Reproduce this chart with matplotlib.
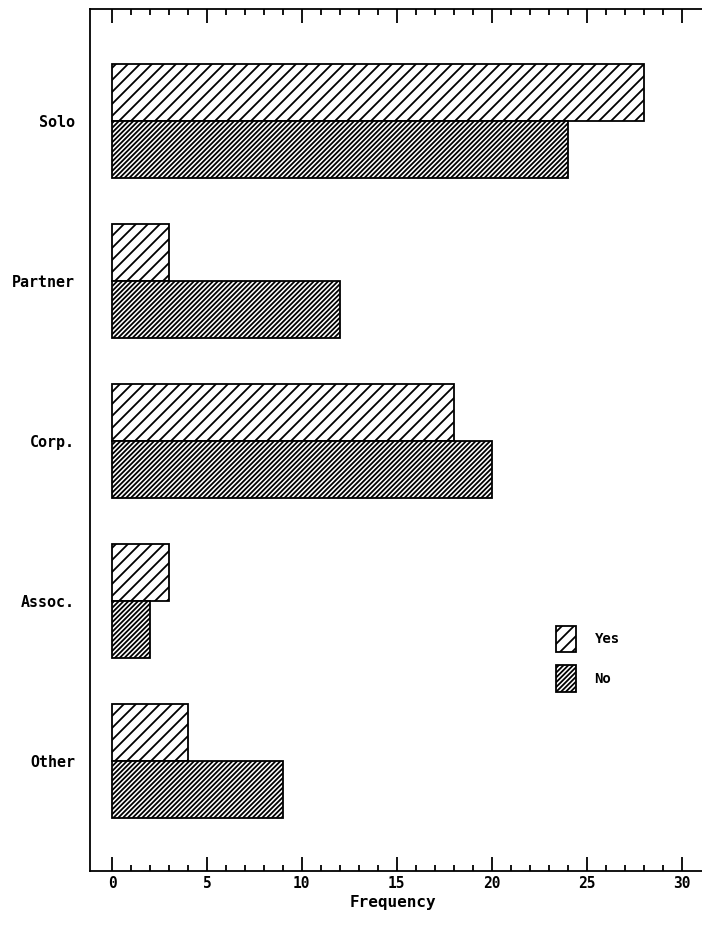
import numpy as np
import matplotlib
matplotlib.use('Agg')
import matplotlib.pyplot as plt

# data
categories = ['Solo', 'Partner', 'Corp.', 'Assoc.', 'Other']
yes_counts = [28, 3, 18, 3, 4]
no_counts = [24, 12, 20, 2, 9]
series_labels = ['Yes', 'No']
x_major = [0, 5, 10, 15, 20, 25, 30]
x_label = 'Frequency'

plt.rcParams['font.family'] = ['DejaVu Sans Mono']
plt.rcParams['font.weight'] = 'bold'
plt.rcParams['hatch.linewidth'] = 1.8
plt.rcParams['hatch.color'] = 'black'

dpi = 72
fig = plt.figure(figsize=(702/dpi, 925/dpi), dpi=dpi)
ax = fig.add_axes([90/702, 54/925, 620/702, 862/925])

y = np.arange(len(categories))
h = 0.356
ax.barh(y - h/2, yes_counts, height=h, color='white', edgecolor='black',
        linewidth=1.8, hatch='//', label=series_labels[0])
ax.barh(y + h/2, no_counts, height=h, color='white', edgecolor='black',
        linewidth=1.8, hatch='/////', label=series_labels[1])

ax.set_xlim(-1.16, 31.5)
ax.set_ylim(4.69, -0.70)

ax.set_yticks(y)
ax.set_yticklabels(categories, fontsize=15, fontweight='bold')
ax.tick_params(axis='y', length=0, pad=15)

ax.set_xticks(x_major)
ax.set_xticks(np.arange(0, 31, 1), minor=True)
ax.tick_params(axis='x', which='major', direction='in', length=14, width=1.8,
               top=True, labelsize=14.5, pad=5)
ax.tick_params(axis='x', which='minor', direction='in', length=6, width=1.8,
               top=True)
for lbl in ax.get_xticklabels():
    lbl.set_fontweight('bold')

ax.set_xlabel(x_label, fontsize=16, fontweight='bold')
ax.xaxis.set_label_coords((393-90)/620, -(895-871)/862)

for sp in ax.spines.values():
    sp.set_linewidth(1.8)

leg = ax.legend(loc='upper left', bbox_to_anchor=(556/702, 1 - 626/925),
                bbox_transform=fig.transFigure, frameon=False, fontsize=14,
                handlelength=1.45, handleheight=2.5, labelspacing=0.95,
                handletextpad=1.3, borderpad=0, borderaxespad=0)
for t in leg.get_texts():
    t.set_fontweight('bold')

plt.savefig('out.png', dpi=dpi)
